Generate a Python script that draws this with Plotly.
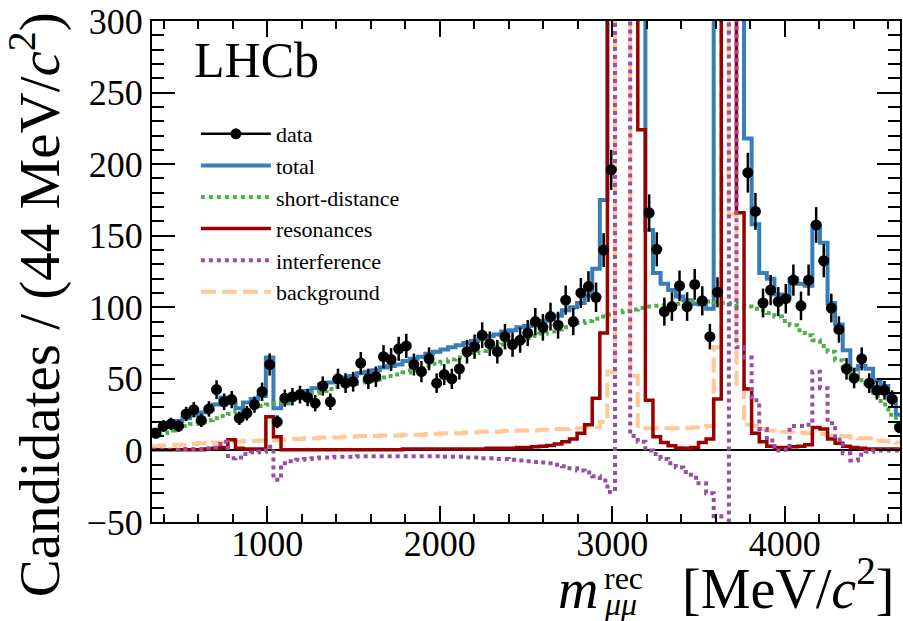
import numpy as np
import plotly.graph_objects as go

# ---------------- data (bins of 44 MeV/c^2 starting at 332 MeV/c^2) ----------------
BIN_LOW = 332.0
BIN_WIDTH = 44.0

data_counts = [
    12, 17, 18.5, 17, 25.5, 28.5, 21, 29, 42.5, 34,
    35.5, 22.5, 26, 32, 41, 60, 20, 36.5, 37.5, 39,
    37, 33, 45, 34, 50, 47, 48, 61, 50, 51.5,
    65.5, 63.5, 71, 73, 60, 55, 64, 47, 53, 50,
    57, 69, 72.5, 80.5, 74.5, 69, 79.5, 74, 77, 82,
    90, 86, 93.5, 87.5, 105, 90, 110, 114.5, 107, 140,
    196, 1100, 5000, 3600, 410, 166, 140.5, 97, 100.5, 115,
    100.5, 116, 104.5, 79.5, 110.5, 2400, 1500, 380, 194, 167,
    103, 112, 104, 106, 119, 101, 119, 157.5, 132.5, 99.5,
    84.5, 57, 50.5, 64, 47, 42, 42, 36, 16]

data_errors = [
    3.5, 4.1, 4.3, 4.1, 5.0, 5.3, 4.6, 5.4, 6.5, 5.8,
    6.0, 4.7, 5.1, 5.7, 6.4, 7.7, 4.5, 6.0, 6.1, 6.2,
    6.1, 5.7, 6.7, 5.8, 7.1, 6.9, 6.9, 7.8, 7.1, 7.2,
    8.1, 8.0, 8.4, 8.5, 7.7, 7.4, 8.0, 6.9, 7.3, 7.1,
    7.5, 8.3, 8.5, 9.0, 8.6, 8.3, 8.9, 8.6, 8.8, 9.1,
    9.5, 9.3, 9.7, 9.4, 10.2, 9.5, 10.5, 10.7, 10.3, 11.8,
    14.0, 33.2, 70.7, 60.0, 20.2, 12.9, 11.9, 9.8, 10.0, 10.7,
    10.0, 10.8, 10.2, 8.9, 10.5, 49.0, 38.7, 19.5, 13.9, 12.9,
    10.1, 10.6, 10.2, 10.3, 10.9, 10.0, 10.9, 12.5, 11.5, 10.0,
    9.2, 7.5, 7.1, 8.0, 6.9, 6.5, 6.5, 6.0, 4.0]

total = [
    14.5, 16.5, 18.5, 20.5, 22.5, 24.5, 26.5, 28.5, 32, 37,
    33.5, 29.5, 33.5, 36, 38, 65, 29.5, 33, 36.5, 39,
    41.5, 43.5, 46, 47.5, 49.5, 51, 52, 54, 55, 56,
    58, 59, 60, 62.5, 64, 65.5, 67.5, 69, 70.5, 72,
    73.5, 75, 76.5, 78, 80, 81, 83, 84, 86, 87,
    88.5, 90.5, 92, 94, 98, 100, 103, 108, 127, 175,
    1800, 6500, 7300, 2800, 390, 154, 124, 116.5, 112, 107.5,
    105, 102.5, 102, 99, 420, 4200, 2600, 385, 218, 158,
    124, 120, 109, 107, 120, 116.5, 115, 157, 145, 103,
    88, 70, 56.5, 59, 57, 49, 45, 36, 25]

short_distance = [
    10.5, 12, 14, 15.5, 17, 18.5, 20, 21, 22.5, 24,
    25.5, 27, 28.5, 30, 31, 32, 33, 34, 35.5, 37,
    38.5, 40, 41.5, 43, 44.5, 45.5, 46.5, 47.5, 48.5, 49.5,
    51, 52, 53, 54.5, 56, 57.5, 59, 60.5, 62, 63.5,
    65, 66.5, 68, 69.5, 71, 72.5, 74, 75.5, 77, 78.5,
    80, 81.5, 83, 84.5, 86, 87.5, 89, 90.5, 92, 93.5,
    95, 96.5, 97.5, 98.5, 99.5, 100.5, 101, 101.5, 102, 102.5,
    103, 103.5, 104, 104, 103.5, 103, 102.5, 101.5, 100.5, 99,
    97.5, 96, 93.5, 90.5, 87.5, 84, 80.5, 77, 73, 69,
    63, 58, 53.5, 49, 44, 38, 32, 25, 17]

resonances = [
    0.5, 0.5, 0.5, 0.5, 0.5, 0.5, 0.5, 1, 1.5, 2,
    7.5, 1.5, 1, 1, 1, 23.5, 9.5, 0.5, 0.5, 0.5,
    0.5, 0.5, 0.5, 0.5, 0.5, 0.5, 0.5, 0.5, 0.5, 0.5,
    0.5, 0.5, 0.5, 1, 1, 1, 1, 1, 1, 1,
    1, 1, 1, 1, 1.5, 1.5, 1.5, 1.5, 2, 2,
    2.5, 3, 3.5, 4.5, 6, 8, 12, 18, 36.5, 82,
    600, 2500, 3800, 1800, 224, 35, 9.5, 5.5, 3.3, 1.7,
    1.5, 2, 5.5, 8, 36, 2800, 1200, 166, 43, 12,
    6, 3, 2, 2, 2.5, 3, 4, 16, 15, 8,
    5, 3, 2, 1.5, 1, 1, 1, 1, 1]

interference = [
    0.5, 0.5, 0.5, 0.5, 1, 1, 1, 1.5, 2, 6,
    -5.5, -5, -2.5, -1.5, -1, 2.5, -20.5, -9, -7.5, -6.5,
    -6, -5.5, -5, -5, -4.5, -4.5, -4.5, -4, -4, -4,
    -4, -4, -4, -4, -4, -4, -4, -4, -4.5, -4.5,
    -4.5, -5, -5, -5.5, -5.5, -6, -6, -6.5, -7, -7.5,
    -8, -8.5, -9, -10, -11, -12.5, -14, -15.5, -18, -21,
    -29, 700, 1100, 10, 6, 0, -2.5, -6, -9, -12,
    -15, -19, -23, -30, -46, -56, 900, 72, 65, 35,
    15, 7, 0, 0.5, 17, 17, 18, 55, 43.5, 19,
    7.5, -2, -7, -3, -1, 0, 0, 0, 0]

background = [
    3, 3.5, 3.5, 4, 4, 4.5, 5, 5, 5.5, 5.5,
    6, 6, 6.5, 6.5, 7, 7, 7.5, 7.5, 8, 8,
    8.5, 8.5, 9, 9, 9, 9.5, 9.5, 10, 10, 10,
    10.5, 10.5, 10.5, 11, 11, 11, 11.5, 11.5, 12, 12,
    12, 12.5, 12.5, 13, 13, 13, 13.5, 13.5, 14, 14,
    14, 14.5, 14.5, 15, 15, 15.5, 15.5, 16, 16, 20,
    55, 900, 1400, 52, 15.5, 15.5, 15.5, 15.5, 15.5, 15.5,
    15.5, 16, 16, 17, 72, 700, 165, 45, 18, 17,
    15, 14, 13, 13, 13, 12.5, 12, 11.5, 11.5, 10.5,
    10, 10, 9, 8.5, 8.5, 7, 6.5, 6, 5.5]

x_ticks = [1000, 2000, 3000, 4000]
y_ticks = [-50, 0, 50, 100, 150, 200, 250, 300]

# ---------------- geometry helpers ----------------
n_bins = len(data_counts)
centers = BIN_LOW + BIN_WIDTH * (np.arange(n_bins) + 0.5)
edges = BIN_LOW + BIN_WIDTH * np.arange(n_bins + 1)


def step(vals):
    return list(vals) + [vals[-1]]


W, H = 903, 621
ML, MR, MT, MB = 152, 1, 21, 99
PW = W - ML - MR
PH = H - MT - MB


def px(x):
    return (x - ML) / PW


def py(y):
    return (H - MB - y) / PH


FONT = "Liberation Serif, Times New Roman, Times, serif"
BLUE = "#377eb8"
GREEN = "#4daf4a"
RED = "#990000"
PURPLE = "#984ea3"
PEACH = "#ffc896"

fig = go.Figure()

fig.add_trace(go.Scatter(x=edges, y=step(total), mode="lines", line_shape="hv",
                         line=dict(color=BLUE, width=4), name="total", legendrank=2))
fig.add_trace(go.Scatter(x=edges, y=step(short_distance), mode="lines", line_shape="hv",
                         line=dict(color=GREEN, width=4, dash="4px,4px"),
                         name="short-distance", legendrank=3))
fig.add_trace(go.Scatter(x=edges, y=step(background), mode="lines", line_shape="hv",
                         line=dict(color=PEACH, width=4, dash="15px,6px"),
                         name="background", legendrank=6))
fig.add_trace(go.Scatter(x=edges, y=step(resonances), mode="lines", line_shape="hv",
                         line=dict(color=RED, width=3.5), name="resonances", legendrank=4))
fig.add_trace(go.Scatter(x=edges, y=step(interference), mode="lines", line_shape="hv",
                         line=dict(color=PURPLE, width=4, dash="4px,4px"),
                         name="interference", legendrank=5))
fig.add_trace(go.Scatter(x=centers, y=data_counts, mode="markers",
                         marker=dict(color="black", size=11),
                         error_y=dict(type="data", array=data_errors, color="black",
                                      thickness=2.5, width=0),
                         showlegend=False, name="data"))
# legend entry for data (line with dot, as in the original)
fig.add_trace(go.Scatter(x=[None], y=[None], mode="lines+markers",
                         line=dict(color="black", width=2.5),
                         marker=dict(color="black", size=11),
                         name="data", legendrank=1))

annotations = [
    dict(text="LHCb", x=px(192), y=py(60), xanchor="left", yanchor="middle",
         font=dict(family=FONT, size=50, color="black")),
    dict(text="Candidates / (44 MeV/<i>c</i><sup>2</sup>)", x=px(35), y=py(305),
         textangle=-90, xanchor="center", yanchor="middle",
         font=dict(family=FONT, size=57, color="black")),
    dict(text="<i>m</i>", x=px(601), y=py(622), xanchor="right", yanchor="bottom",
         font=dict(family=FONT, size=56, color="black")),
    dict(text="rec", x=px(603), y=py(598), xanchor="left", yanchor="bottom",
         font=dict(family=FONT, size=32, color="black")),
    dict(text="<i>μμ</i>", x=px(603), y=py(624), xanchor="left", yanchor="bottom",
         font=dict(family=FONT, size=32, color="black")),
    dict(text="[MeV/<i>c</i><sup>2</sup>]", x=px(898), y=py(622), xanchor="right",
         yanchor="bottom", font=dict(family=FONT, size=56, color="black")),
]
for a in annotations:
    a.update(xref="paper", yref="paper", showarrow=False)

fig.update_layout(
    width=W, height=H,
    margin=dict(l=ML, r=MR, t=MT, b=MB, pad=0),
    paper_bgcolor="white", plot_bgcolor="white",
    font=dict(family=FONT, color="black"),
    showlegend=True,
    legend=dict(x=px(196), y=py(113), xanchor="left", yanchor="top",
                bgcolor="rgba(0,0,0,0)", borderwidth=0,
                font=dict(family=FONT, size=22, color="black"),
                itemwidth=70, tracegroupgap=0),
    annotations=annotations,
    xaxis=dict(range=[332, 4668], tickvals=x_ticks, ticks="inside", ticklen=16,
               tickwidth=2, tickcolor="black", showline=True, linecolor="black",
               linewidth=2, mirror="allticks", showgrid=False, zeroline=False,
               ticklabelstandoff=-11,
               tickfont=dict(family=FONT, size=36, color="black"),
               minor=dict(dtick=200, tick0=0, ticks="inside", ticklen=8,
                          tickwidth=2, tickcolor="black", showgrid=False)),
    yaxis=dict(range=[-50, 300], tickvals=y_ticks, ticks="inside", ticklen=23,
               tickwidth=2, tickcolor="black", showline=True, linecolor="black",
               linewidth=2, mirror="allticks", showgrid=False, zeroline=True,
               zerolinecolor="black", zerolinewidth=2,
               tickfont=dict(family=FONT, size=36, color="black"),
               minor=dict(dtick=10, tick0=0, ticks="inside", ticklen=12,
                          tickwidth=2, tickcolor="black", showgrid=False)),
)

fig.write_html("out.html")
